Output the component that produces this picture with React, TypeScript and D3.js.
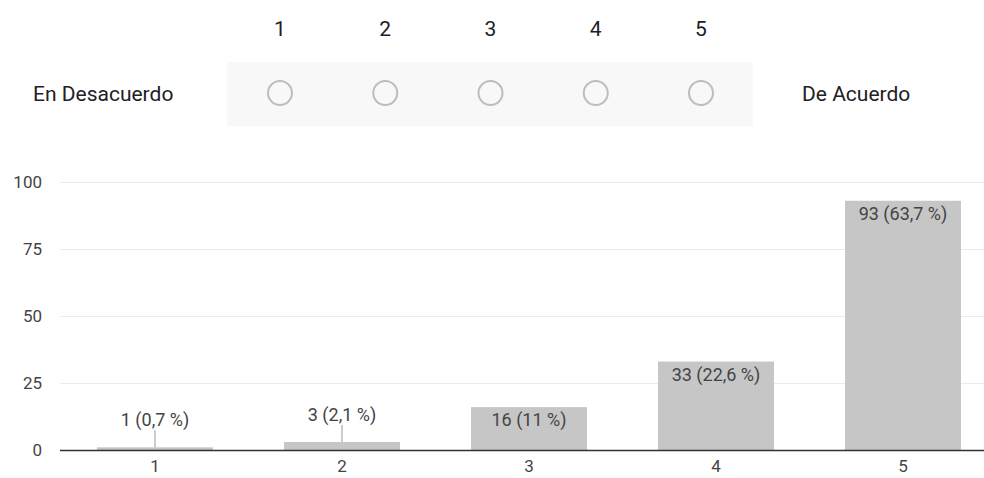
import React from "react";
import * as d3 from "d3";

const scalePoints = ["1", "2", "3", "4", "5"];
const leftLabel = "En Desacuerdo";
const rightLabel = "De Acuerdo";

const categories = ["1", "2", "3", "4", "5"];
const counts = [1, 3, 16, 33, 93];
const percents = ["0,7", "2,1", "11", "22,6", "63,7"];
const yTicks = [0, 25, 50, 75, 100];

const W = 984;
const H = 478;

export default function App() {
  // top scale row
  const topX = d3.scalePoint<string>().domain(scalePoints).range([280, 701]);

  // chart
  const x = d3
    .scaleBand<string>()
    .domain(categories)
    .range([61.5, 996.5])
    .paddingInner(0.38)
    .paddingOuter(0.19);
  const y = d3.scaleLinear().domain([0, 100]).range([450, 182]);

  const font = "Roboto, Arial, sans-serif";

  return (
    <div style={{ position: "absolute", left: 0, top: 0 }}>
      <svg width={W} height={H} style={{ display: "block" }} fontFamily={font}>
        <rect x={0} y={0} width={W} height={H} fill="#ffffff" />
        {/* Top Likert row */}
        <rect x={227} y={62} width={526} height={64} fill="#f8f8f8" />
        {scalePoints.map((p) => (
          <g key={p}>
            <text
              x={topX(p)}
              y={36}
              textAnchor="middle"
              fontSize={21}
              fill="#202124"
            >
              {p}
            </text>
            <circle
              cx={topX(p)}
              cy={93}
              r={12}
              fill="none"
              stroke="#bdbdbd"
              strokeWidth={2}
            />
          </g>
        ))}
        <text x={33} y={101} fontSize={21} fill="#202124">
          {leftLabel}
        </text>
        <text x={802} y={101} fontSize={21} fill="#202124">
          {rightLabel}
        </text>

        {/* Gridlines */}
        {yTicks.map((t) => (
          <g key={t}>
            {t !== 0 && (
              <line
                x1={60}
                x2={W}
                y1={y(t) + 0.5}
                y2={y(t) + 0.5}
                stroke="#ebebeb"
                strokeWidth={1}
              />
            )}
            <text
              x={42}
              y={y(t) + 6}
              textAnchor="end"
              fontSize={17}
              fill="#444444"
            >
              {t}
            </text>
          </g>
        ))}

        {/* Bars */}
        {categories.map((c, i) => {
          const x0 = x(c) as number;
          const bw = x.bandwidth();
          const top = y(counts[i]);
          const label = `${counts[i]} (${percents[i]} %)`;
          const cx = x0 + bw / 2;
          const inside = y(0) - top > 22;
          return (
            <g key={c}>
              <rect
                x={x0}
                y={top}
                width={bw}
                height={y(0) - top}
                fill="#c6c6c6"
              />
              {inside ? (
                <text
                  x={cx}
                  y={top + 19}
                  textAnchor="middle"
                  fontSize={18}
                  fill="#444444"
                >
                  {label}
                </text>
              ) : (
                <g>
                  <line
                    x1={cx}
                    x2={cx}
                    y1={top}
                    y2={top - 17}
                    stroke="#999999"
                    strokeWidth={1}
                  />
                  <text
                    x={cx}
                    y={top - 21}
                    textAnchor="middle"
                    fontSize={18}
                    fill="#444444"
                  >
                    {label}
                  </text>
                </g>
              )}
              <text
                x={cx}
                y={472}
                textAnchor="middle"
                fontSize={17}
                fill="#444444"
              >
                {c}
              </text>
            </g>
          );
        })}

        {/* Baseline */}
        <line
          x1={60}
          x2={W}
          y1={y(0) + 0.5}
          y2={y(0) + 0.5}
          stroke="#333333"
          strokeWidth={1.5}
        />
      </svg>
    </div>
  );
}
